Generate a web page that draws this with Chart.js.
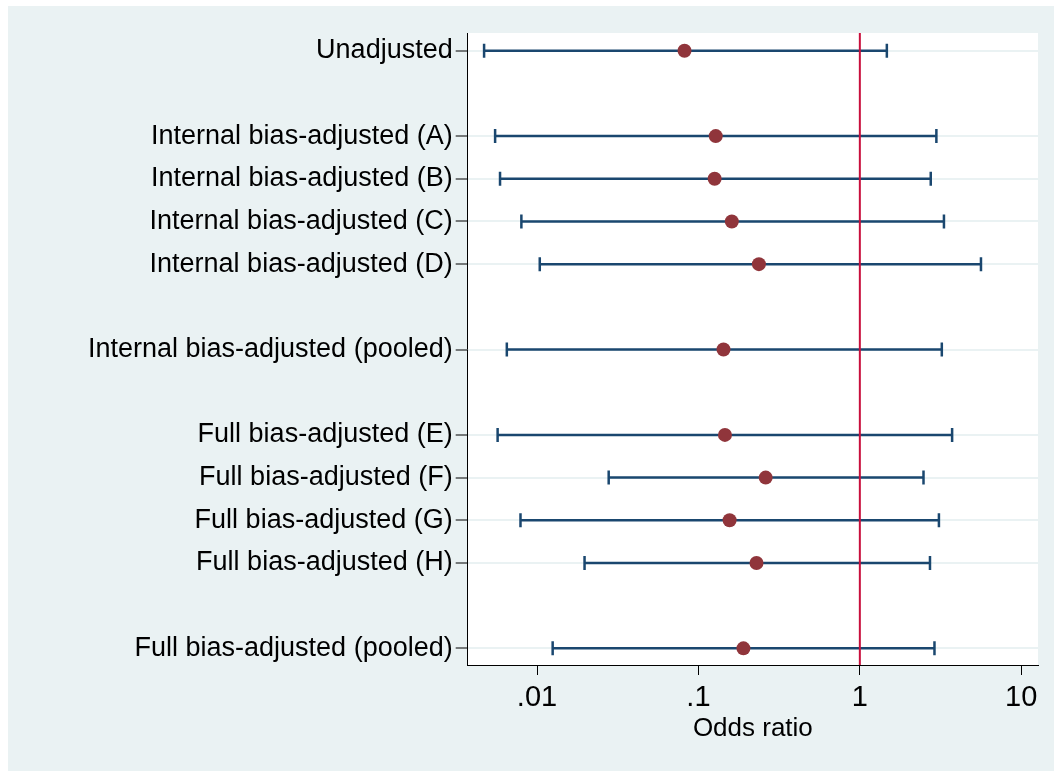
<!DOCTYPE html>
<html>
<head>
<meta charset="utf-8">
<script src="https://cdn.jsdelivr.net/npm/chart.js@4/dist/chart.umd.min.js"></script>
<style>
    body { margin: 0; background: #fff; }
    #wrap { position: absolute; left: 8px; top: 6px; width: 1046px; height: 765px; background: #eaf2f3; }
</style>
</head>
<body>
<div id="wrap"><canvas id="c" width="1046" height="765"></canvas></div>
<script>
// rows (top to bottom) and their labels
const rows = [1, 3, 4, 5, 6, 8, 10, 11, 12, 13, 15];
const labels = [
    'Unadjusted',
    'Internal bias-adjusted (A)',
    'Internal bias-adjusted (B)',
    'Internal bias-adjusted (C)',
    'Internal bias-adjusted (D)',
    'Internal bias-adjusted (pooled)',
    'Full bias-adjusted (E)',
    'Full bias-adjusted (F)',
    'Full bias-adjusted (G)',
    'Full bias-adjusted (H)',
    'Full bias-adjusted (pooled)'
];

// odds ratios with 95% interval
const estimate = [0.082, 0.128, 0.126, 0.161, 0.237, 0.143, 0.146, 0.261, 0.156, 0.229, 0.190];
const lower    = [0.0047, 0.0055, 0.0059, 0.0080, 0.0104, 0.0065, 0.0057, 0.0278, 0.0079, 0.0197, 0.0125];
const upper    = [1.47, 2.98, 2.75, 3.32, 5.63, 3.22, 3.73, 2.48, 3.09, 2.72, 2.90];

const xTicks = [0.01, 0.1, 1, 10];
const xTickLabels = ['.01', '.1', '1', '10'];
const refLine = 1;

// axis ranges
const xMin = 0.00372, xMax = 12.7;
const yMin = 0.585, yMax = 15.39;

const FONT = "'Liberation Sans', Arial, sans-serif";
const NAVY = '#1a476f';

// Build datasets
const datasets = [];

datasets.push({
    type: 'scatter',
    data: rows.map((r, i) => ({ x: estimate[i], y: r })),
    pointStyle: 'circle',
    pointRadius: 7,
    pointBackgroundColor: '#90353b',
    pointBorderWidth: 0,
    order: 0
});

datasets.push({
    type: 'line',
    data: [{ x: refLine, y: yMin }, { x: refLine, y: yMax }],
    borderColor: '#c80f3c',
    borderWidth: 2,
    pointRadius: 0,
    order: 1
});

rows.forEach((r, i) => {
    datasets.push({
        type: 'line',
        data: [{ x: lower[i], y: r }, { x: upper[i], y: r }],
        borderColor: NAVY,
        borderWidth: 2.5,
        pointStyle: 'line',
        rotation: 90,
        pointRadius: 7,
        pointBorderColor: NAVY,
        pointBorderWidth: 2.5,
        order: 2
    });
});

// white plot region
const plotBg = {
    id: 'plotBg',
    beforeDraw(chart) {
        const { ctx, chartArea: a } = chart;
        ctx.save();
        ctx.fillStyle = '#ffffff';
        ctx.fillRect(a.left, a.top, a.right - a.left, a.bottom - a.top);
        ctx.restore();
    }
};

new Chart(document.getElementById('c'), {
    data: { datasets },
    options: {
        responsive: false,
        animation: false,
        layout: { padding: { top: 27, right: 16, bottom: 0, left: 0 } },
        plugins: { legend: { display: false }, tooltip: { enabled: false } },
        scales: {
            x: {
                type: 'logarithmic',
                position: 'bottom',
                min: xMin,
                max: xMax,
                afterBuildTicks: axis => { axis.ticks = xTicks.map(v => ({ value: v })); },
                afterFit: axis => { axis.height = 106; },
                ticks: {
                    autoSkip: false,
                    maxRotation: 0,
                    padding: 6,
                    color: '#000',
                    font: { family: FONT, size: 29 },
                    callback: v => xTickLabels[xTicks.indexOf(v)]
                },
                grid: { drawOnChartArea: false, tickLength: 10, tickColor: '#000', tickWidth: 1 },
                border: { color: '#000', width: 1 },
                title: {
                    display: true,
                    text: 'Odds ratio',
                    color: '#000',
                    font: { family: FONT, size: 26, lineHeight: 1.2 },
                    padding: { top: 0, bottom: 27 }
                }
            },
            y: {
                type: 'linear',
                position: 'left',
                reverse: true,
                min: yMin,
                max: yMax,
                afterBuildTicks: axis => { axis.ticks = rows.map(v => ({ value: v })); },
                afterFit: axis => { axis.width = 459.7; },
                ticks: {
                    autoSkip: false,
                    padding: 3,
                    color: '#000',
                    font: { family: FONT, size: 27 },
                    callback: v => labels[rows.indexOf(v)]
                },
                grid: { color: '#eaf2f3', lineWidth: 2, tickLength: 12, tickColor: '#000', tickWidth: 1 },
                border: { color: '#000', width: 1 }
            }
        }
    },
    plugins: [plotBg]
});
</script>
</body>
</html>
